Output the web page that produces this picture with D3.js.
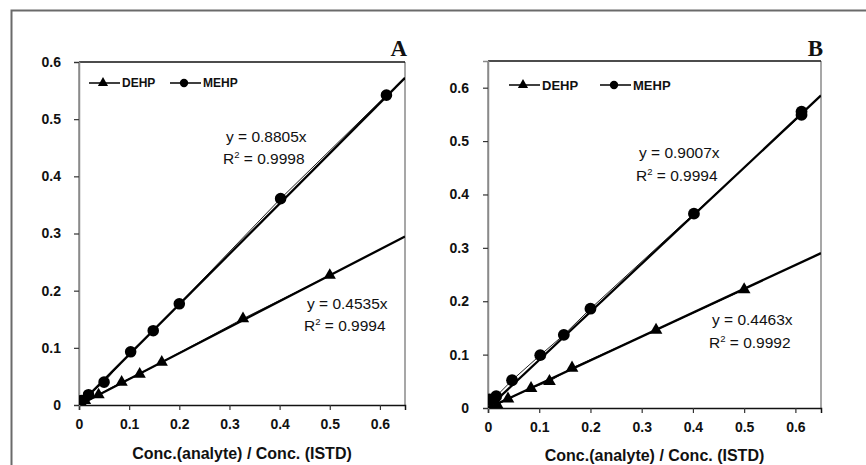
<!DOCTYPE html>
<html>
<head>
<meta charset="utf-8">
<script src="https://cdn.jsdelivr.net/npm/d3@7"></script>
<style>
  html, body { margin: 0; padding: 0; background: #fff; }
  svg { display: block; }
</style>
</head>
<body>
<svg id="chart" width="866" height="465"></svg>
<script>
// Calibration data (ratio = Conc.(analyte)/Conc.(ISTD), resp = peak area ratio)
const seriesNames = ["DEHP", "MEHP"];

const ratioA_DEHP = [0.005, 0.012, 0.039, 0.085, 0.121, 0.165, 0.327, 0.5];
const respA_DEHP = [0.003, 0.008, 0.018, 0.04, 0.054, 0.075, 0.151, 0.227];
const ratioA_MEHP = [0.005, 0.019, 0.05, 0.103, 0.148, 0.2, 0.402, 0.613];
const respA_MEHP = [0.008, 0.018, 0.04, 0.093, 0.13, 0.177, 0.361, 0.542];

const ratioB_DEHP = [0.006, 0.018, 0.039, 0.084, 0.12, 0.164, 0.328, 0.5];
const respB_DEHP = [0.0, 0.006, 0.017, 0.037, 0.05, 0.075, 0.146, 0.222];
const ratioB_MEHP = [0.003, 0.016, 0.047, 0.102, 0.148, 0.2, 0.402, 0.612, 0.612];
const respB_MEHP = [0.016, 0.022, 0.052, 0.099, 0.137, 0.186, 0.364, 0.549, 0.555];

// Regression results (forced through origin)
const slopesA = [0.4535, 0.8805];
const r2A = ["0.9994", "0.9998"];
const slopesB = [0.4463, 0.9007];
const r2B = ["0.9992", "0.9994"];

const xTicks = [0, 0.1, 0.2, 0.3, 0.4, 0.5, 0.6];
const yTicks = [0, 0.1, 0.2, 0.3, 0.4, 0.5, 0.6];
const xTitle = "Conc.(analyte) / Conc. (ISTD)";

const svg = d3.select("#chart");
const FONT = "Liberation Sans, Arial, Helvetica, sans-serif";

// Outer figure frame (only top + left edges visible)
svg.append("path")
  .attr("d", "M11.5,465 L11.5,10.5 L866,10.5")
  .attr("fill", "none")
  .attr("stroke", "#6a6a6a")
  .attr("stroke-width", 2);

function drawPanel(cfg) {
  const x = d3.scaleLinear().domain([0, 0.65]).range([cfg.left, cfg.right]);
  const y = d3.scaleLinear().domain([0, cfg.yMax]).range([cfg.bottom, cfg.top]);
  const g = svg.append("g");

  // plot-area border: grey sides, black top
  g.append("line")
    .attr("x1", cfg.left).attr("x2", cfg.left)
    .attr("y1", cfg.top).attr("y2", cfg.bottom)
    .attr("stroke", "#8a8a8a").attr("stroke-width", 1.5);
  g.append("line")
    .attr("x1", cfg.right).attr("x2", cfg.right)
    .attr("y1", cfg.top).attr("y2", cfg.bottom)
    .attr("stroke", "#8a8a8a").attr("stroke-width", 1.5);
  g.append("line")
    .attr("x1", cfg.left).attr("x2", cfg.right)
    .attr("y1", cfg.top).attr("y2", cfg.top)
    .attr("stroke", "#111").attr("stroke-width", 1.5);

  // axes
  const xAxis = g.append("g")
    .attr("transform", `translate(0,${cfg.bottom})`)
    .call(d3.axisBottom(x).tickValues(xTicks).tickSizeOuter(0).tickSize(5).tickPadding(9)
      .tickFormat(d => d === 0 ? "0" : d3.format(".1f")(d)));
  const yAxis = g.append("g")
    .attr("transform", `translate(${cfg.left},0)`)
    .call(d3.axisLeft(y).tickValues(yTicks).tickSizeOuter(0).tickSize(5).tickPadding(cfg.yPad)
      .tickFormat(d => d === 0 ? "0" : d3.format(".1f")(d)));
  [xAxis, yAxis].forEach(a => {
    a.attr("font-size", 14).attr("font-family", FONT);
    a.selectAll("text")
      .style("font-size", "14px")
      .style("font-weight", "bold")
      .attr("fill", "#111");
    a.selectAll("line").attr("stroke", "#333").attr("stroke-width", 1.2);
  });
  xAxis.select(".domain").attr("stroke", "#111").attr("stroke-width", 1.5);
  yAxis.select(".domain").attr("stroke", "#8a8a8a").attr("stroke-width", 1.5);

  // axis title
  g.append("text")
    .attr("x", (cfg.left + cfg.right) / 2)
    .attr("y", cfg.titleY)
    .attr("text-anchor", "middle")
    .attr("font-family", FONT)
    .attr("font-size", 16)
    .attr("font-weight", "bold")
    .attr("fill", "#111")
    .text(xTitle);

  // panel letter
  g.append("text")
    .attr("x", cfg.right + 2)
    .attr("y", cfg.letterY)
    .attr("text-anchor", "end")
    .attr("font-family", "Liberation Serif, Times New Roman, serif")
    .attr("font-size", 23)
    .attr("font-weight", "bold")
    .attr("fill", "#111")
    .text(cfg.letter);

  const line = d3.line().x(d => x(d[0])).y(d => y(d[1]));
  const clipId = "clip" + cfg.letter;
  svg.append("clipPath").attr("id", clipId)
    .append("rect")
    .attr("x", cfg.left).attr("y", cfg.top)
    .attr("width", cfg.right - cfg.left).attr("height", cfg.bottom - cfg.top);
  const plot = g.append("g").attr("clip-path", `url(#${clipId})`);

  cfg.series.forEach((s, i) => {
    const pts = s.xs.map((v, k) => [v, s.ys[k]]);
    // connecting line through data points (thin)
    plot.append("path")
      .attr("d", line(pts))
      .attr("fill", "none")
      .attr("stroke", "#222")
      .attr("stroke-width", 1);
    // regression line through origin
    plot.append("path")
      .attr("d", line([[0, 0], [0.65, cfg.slopes[i] * 0.65]]))
      .attr("fill", "none")
      .attr("stroke", "#000")
      .attr("stroke-width", 2.3);
    // markers
    const sym = d3.symbol()
      .type(i === 0 ? d3.symbolTriangle : d3.symbolCircle)
      .size(i === 0 ? cfg.triSize : cfg.dotSize);
    plot.selectAll(null)
      .data(pts)
      .join("path")
      .attr("d", sym)
      .attr("transform", d => `translate(${x(d[0])},${y(d[1])})`)
      .attr("fill", "#000");

    // equation labels
    const eq = cfg.eqPos[i];
    g.append("text")
      .attr("x", eq[0]).attr("y", eq[1])
      .attr("font-family", FONT)
      .attr("font-size", 15.5)
      .attr("fill", "#111")
      .text(`y = ${cfg.slopes[i].toFixed(4)}x`);
    const r = g.append("text")
      .attr("x", eq[0] - 3).attr("y", eq[1] + cfg.eqGap)
      .attr("font-family", FONT)
      .attr("font-size", 15.5)
      .attr("fill", "#111");
    r.append("tspan").text("R");
    r.append("tspan").attr("dy", -6).attr("font-size", 9.5).text("2");
    r.append("tspan").attr("dy", 6).text(` = ${cfg.r2[i]}`);

    // legend entry
    const lx = cfg.legend[i];
    g.append("line")
      .attr("x1", lx).attr("x2", lx + 31)
      .attr("y1", cfg.legendY).attr("y2", cfg.legendY)
      .attr("stroke", "#000").attr("stroke-width", 1.5);
    g.append("path")
      .attr("d", d3.symbol().type(i === 0 ? d3.symbolTriangle : d3.symbolCircle)
        .size(i === 0 ? 45 : 55))
      .attr("transform", `translate(${lx + 14},${cfg.legendY})`)
      .attr("fill", "#000");
    g.append("text")
      .attr("x", lx + 33)
      .attr("y", cfg.legendY + cfg.legendFont * 0.36)
      .attr("font-family", FONT)
      .attr("font-size", cfg.legendFont)
      .attr("font-weight", "bold")
      .attr("fill", "#111")
      .text(seriesNames[i]);
  });
}

drawPanel({
  letter: "A",
  left: 79, right: 405, top: 62, bottom: 405, yMax: 0.6, yPad: 13,
  titleY: 459, letterY: 56,
  series: [{ xs: ratioA_DEHP, ys: respA_DEHP }, { xs: ratioA_MEHP, ys: respA_MEHP }],
  slopes: slopesA, r2: r2A,
  eqPos: [[307, 309], [226, 142]], eqGap: 22,
  legend: [89, 170], legendY: 83, legendFont: 12,
  triSize: 65, dotSize: 105
});

drawPanel({
  letter: "B",
  left: 488, right: 821, top: 61, bottom: 408, yMax: 0.65, yPad: 14,
  titleY: 461, letterY: 56,
  series: [{ xs: ratioB_DEHP, ys: respB_DEHP }, { xs: ratioB_MEHP, ys: respB_MEHP }],
  slopes: slopesB, r2: r2B,
  eqPos: [[712, 325], [639, 158]], eqGap: 23,
  legend: [509, 600], legendY: 85, legendFont: 13,
  triSize: 70, dotSize: 110
});
</script>
</body>
</html>
